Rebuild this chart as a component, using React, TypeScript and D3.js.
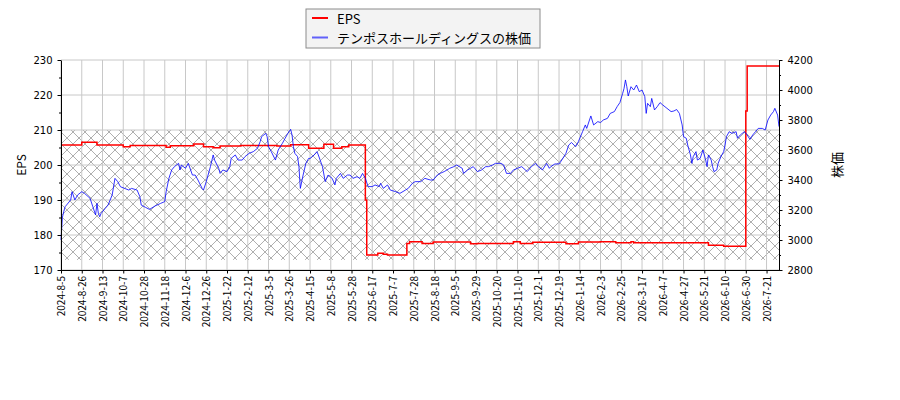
import React, { useRef, useEffect } from "react";
import * as d3 from "d3";

// x tick labels, one every 15 trading days
const tickLabels: string[] = [
  "2024-8-5", "2024-8-26", "2024-9-13", "2024-10-7", "2024-10-28", "2024-11-18",
  "2024-12-6", "2024-12-26", "2025-1-22", "2025-2-12", "2025-3-5", "2025-3-26",
  "2025-4-15", "2025-5-8", "2025-5-28", "2025-6-17", "2025-7-7", "2025-7-28",
  "2025-8-18", "2025-9-5", "2025-9-29", "2025-10-20", "2025-11-10", "2025-12-1",
  "2025-12-19", "2026-1-14", "2026-2-3", "2026-2-25", "2026-3-17", "2026-4-7",
  "2026-4-27", "2026-5-21", "2026-6-10", "2026-6-30", "2026-7-21",
];
const tickStep = 15;
const lastIndex = 519;

// EPS, [day index, value] at each change
const epsSteps: [number, number][] = [
  [0, 205.7], [15, 206.5], [26, 205.7], [45, 205.2], [50, 205.6], [76, 205.1],
  [79, 205.5], [96, 206.0], [103, 205.2], [110, 204.9], [115, 205.4], [130, 205.6],
  [156, 205.4], [166, 205.8], [179, 204.8], [190, 205.9], [197, 204.8], [203, 205.2],
  [208, 205.7], [220, 190.0], [221, 174.3], [229, 174.8], [233, 174.5], [236, 174.3],
  [250, 177.6], [252, 178.1], [261, 177.6], [269, 178.0], [296, 177.5], [301, 177.6],
  [327, 178.1], [332, 177.6], [341, 177.9], [365, 177.5], [374, 178.0], [390, 178.1],
  [401, 177.8], [412, 178.1], [414, 177.8], [468, 177.1], [479, 176.8], [495, 215.4],
  [496, 228.3], [519, 228.3],
];

// share price, [day index, yen]
const stockPrice: [number, number][] = [
  [0, 3000], [1, 3150], [2, 3190], [3, 3222], [4, 3233], [7, 3267], [8, 3322],
  [10, 3267], [12, 3300], [15, 3322], [17, 3311], [21, 3278], [23, 3222], [25, 3167],
  [26, 3244], [27, 3178], [28, 3155], [29, 3178], [32, 3211], [34, 3233], [37, 3300],
  [39, 3411], [41, 3389], [43, 3355], [46, 3344], [49, 3333], [51, 3344], [55, 3333],
  [57, 3289], [58, 3233], [61, 3218], [64, 3204], [68, 3227], [72, 3244], [75, 3256],
  [76, 3322], [78, 3411], [80, 3467], [82, 3489], [85, 3511], [86, 3467], [87, 3500],
  [90, 3478], [92, 3511], [95, 3433], [97, 3433], [99, 3400], [102, 3344], [103, 3333],
  [105, 3389], [108, 3489], [110, 3567], [111, 3533], [114, 3478], [115, 3444],
  [117, 3467], [120, 3456], [122, 3489], [123, 3544], [126, 3567], [128, 3533],
  [131, 3533], [133, 3556], [136, 3578], [139, 3589], [142, 3611], [144, 3656],
  [145, 3689], [148, 3711], [149, 3689], [150, 3622], [152, 3589], [155, 3533],
  [157, 3600], [160, 3644], [162, 3678], [164, 3711], [166, 3738], [167, 3700],
  [168, 3622], [169, 3578], [171, 3556], [172, 3489], [173, 3344], [175, 3433],
  [177, 3511], [179, 3544], [180, 3544], [183, 3567], [185, 3589], [186, 3567],
  [189, 3489], [191, 3389], [193, 3433], [196, 3411], [198, 3367], [199, 3411],
  [202, 3444], [204, 3411], [207, 3433], [209, 3433], [211, 3411], [214, 3422],
  [216, 3411], [218, 3444], [220, 3411], [222, 3356], [225, 3356], [227, 3367],
  [230, 3356], [231, 3378], [233, 3344], [236, 3367], [238, 3333], [242, 3322],
  [245, 3311], [249, 3333], [251, 3344], [254, 3378], [256, 3389], [260, 3389],
  [263, 3411], [267, 3400], [269, 3400], [272, 3433], [274, 3444], [277, 3456],
  [279, 3467], [281, 3478], [284, 3489], [286, 3500], [290, 3478], [291, 3444],
  [294, 3467], [296, 3478], [298, 3489], [301, 3456], [304, 3467], [307, 3489],
  [309, 3489], [312, 3500], [314, 3511], [318, 3511], [320, 3500], [322, 3444],
  [325, 3444], [327, 3467], [330, 3478], [333, 3489], [337, 3456], [340, 3489],
  [343, 3511], [345, 3489], [348, 3467], [351, 3511], [353, 3478], [354, 3489],
  [357, 3507], [360, 3507], [362, 3533], [365, 3578], [367, 3633], [369, 3650],
  [372, 3622], [374, 3656], [377, 3722], [379, 3767], [380, 3744], [383, 3827],
  [385, 3767], [388, 3789], [390, 3783], [392, 3800], [395, 3811], [397, 3844],
  [400, 3856], [402, 3889], [404, 3916], [406, 3978], [407, 4011], [408, 4067],
  [409, 4022], [410, 3960], [412, 4022], [414, 4000], [416, 4033], [418, 3989],
  [420, 4000], [422, 3956], [423, 3844], [424, 3911], [426, 3889], [427, 3944],
  [429, 3867], [431, 3889], [433, 3916], [435, 3900], [438, 3878], [441, 3856],
  [443, 3860], [445, 3870], [447, 3844], [449, 3767], [450, 3689], [452, 3678],
  [453, 3633], [455, 3567], [456, 3511], [457, 3556], [459, 3589], [460, 3533],
  [462, 3544], [464, 3600], [466, 3533], [467, 3489], [468, 3567], [470, 3533],
  [471, 3489], [472, 3456], [474, 3467], [475, 3511], [477, 3556], [479, 3589],
  [480, 3633], [481, 3689], [483, 3722], [485, 3711], [488, 3722], [489, 3678],
  [491, 3700], [494, 3722], [496, 3700], [498, 3671], [500, 3700], [502, 3722],
  [504, 3744], [507, 3744], [509, 3733], [511, 3800], [513, 3833], [515, 3856],
  [516, 3878], [518, 3833], [519, 3756],
];

// hatched band, in EPS units
const bandLow = 172.9;
const bandHigh = 210;

const stockName = "テンポスホールディングスの株価";

const numFont = "DejaVu Sans";
const jpFont = "'Noto Sans CJK JP', sans-serif";

const App: React.FC = () => {
  const d3Container = useRef<SVGSVGElement | null>(null);

  useEffect(() => {
    const svg = d3.select(d3Container.current);
    svg.selectChildren().remove();

    const margin = { top: 60, right: 121, bottom: 130, left: 61 };
    const width = 900 - margin.left - margin.right;
    const height = 400 - margin.top - margin.bottom;

    const x = d3.scaleLinear().domain([0, lastIndex]).range([0, width]);
    const yL = d3.scaleLinear().domain([170, 230]).range([height, 0]);
    const yR = d3.scaleLinear().domain([2800, 4200]).range([height, 0]);

    // hatch pattern
    const pat = svg
      .append("defs")
      .append("pattern")
      .attr("id", "hatch")
      .attr("patternUnits", "userSpaceOnUse")
      .attr("width", 12)
      .attr("height", 12);
    pat
      .append("path")
      .attr("d", "M0,0L12,12M0,12L12,0M-1,1L1,-1M11,13L13,11M-1,11L1,13M11,-1L13,1")
      .attr("stroke", "#9a9a9a")
      .attr("stroke-width", 0.8)
      .attr("fill", "none");

    const g = svg
      .append("g")
      .attr("transform", `translate(${margin.left},${margin.top})`);

    // hatched band
    g.append("rect")
      .attr("x", 0)
      .attr("width", width)
      .attr("y", yL(bandHigh))
      .attr("height", yL(bandLow) - yL(bandHigh))
      .attr("fill", "url(#hatch)");

    // grid
    const xTicks = tickLabels.map((_, i) => i * tickStep);
    g.append("g")
      .selectAll("line")
      .data(xTicks)
      .join("line")
      .attr("x1", (d) => x(d))
      .attr("x2", (d) => x(d))
      .attr("y1", 0)
      .attr("y2", height)
      .attr("stroke", "#c8c8c8")
      .attr("stroke-width", 1);
    g.append("g")
      .selectAll("line")
      .data(d3.range(170, 231, 10))
      .join("line")
      .attr("x1", 0)
      .attr("x2", width)
      .attr("y1", (d) => yL(d))
      .attr("y2", (d) => yL(d))
      .attr("stroke", "#c8c8c8")
      .attr("stroke-width", 1);

    // EPS line
    const epsLine = d3
      .line<[number, number]>()
      .x((d) => x(d[0]))
      .y((d) => yL(d[1]))
      .curve(d3.curveStepAfter);
    g.append("path")
      .datum(epsSteps)
      .attr("fill", "none")
      .attr("stroke", "#ff0000")
      .attr("stroke-width", 1.5)
      .attr("d", epsLine);

    // price line
    const priceLine = d3
      .line<[number, number]>()
      .x((d) => x(d[0]))
      .y((d) => yR(d[1]));
    g.append("path")
      .datum(stockPrice)
      .attr("fill", "none")
      .attr("stroke", "#0000ff")
      .attr("stroke-opacity", 0.8)
      .attr("stroke-width", 1)
      .attr("d", priceLine);

    // axes
    const styleAxis = (sel: any) => {
      sel.select(".domain").attr("stroke", "#000").attr("stroke-width", 1);
      sel.selectAll(".tick line").attr("stroke", "#000");
      sel.selectAll("text").attr("font-family", numFont).attr("font-size", 10).attr("fill", "#000");
    };

    const left = g
      .append("g")
      .call(
        d3.axisLeft(yL).tickValues(d3.range(170, 231, 10)).tickSize(3.5).tickSizeOuter(0).tickPadding(5)
      );
    styleAxis(left);
    g.append("g")
      .call(d3.axisLeft(yL).tickValues(d3.range(175, 230, 10)).tickSize(2).tickFormat(() => ""))
      .call((s) => s.select(".domain").remove())
      .selectAll(".tick line")
      .attr("stroke", "#000");

    const right = g
      .append("g")
      .attr("transform", `translate(${width},0)`)
      .call(
        d3
          .axisRight(yR)
          .tickValues(d3.range(2800, 4201, 200))
          .tickFormat(d3.format("d"))
          .tickSize(3.5)
          .tickSizeOuter(0)
          .tickPadding(5)
      );
    styleAxis(right);
    g.append("g")
      .attr("transform", `translate(${width},0)`)
      .call(d3.axisRight(yR).tickValues(d3.range(2900, 4200, 200)).tickSize(2).tickFormat(() => ""))
      .call((s) => s.select(".domain").remove())
      .selectAll(".tick line")
      .attr("stroke", "#000");

    const bottom = g
      .append("g")
      .attr("transform", `translate(0,${height})`)
      .call(
        d3
          .axisBottom(x)
          .tickValues(xTicks)
          .tickSize(3.5)
          .tickSizeOuter(0)
          .tickFormat((d) => tickLabels[Math.round(+d / tickStep)])
      );
    styleAxis(bottom);
    bottom
      .selectAll("text")
      .attr("font-family", jpFont)
      .attr("font-size", 10)
      .attr("text-anchor", "end")
      .attr("dy", "0.35em")
      .attr("transform", "translate(0,6) rotate(-90)")
      .attr("x", 0)
      .attr("y", 0);

    // axis titles
    svg
      .append("text")
      .attr("transform", `translate(20,${margin.top + height / 2}) rotate(-90)`)
      .attr("text-anchor", "middle")
      .attr("dominant-baseline", "central")
      .attr("font-family", jpFont)
      .attr("font-size", 12)
      .text("EPS");
    svg
      .append("text")
      .attr("transform", `translate(836,${margin.top + height / 2}) rotate(-90)`)
      .attr("text-anchor", "middle")
      .attr("dominant-baseline", "central")
      .attr("font-family", jpFont)
      .attr("font-size", 13)
      .text("株価");

    // legend
    const lg = svg.append("g").attr("transform", "translate(306,9)");
    lg.append("rect")
      .attr("width", 234)
      .attr("height", 39)
      .attr("fill", "#f3f3f3")
      .attr("stroke", "#8c8c8c")
      .attr("stroke-width", 1);
    const items = [
      { label: "EPS", color: "#ff0000", opacity: 1 },
      { label: stockName, color: "#0000ff", opacity: 0.6 },
    ];
    items.forEach((it, i) => {
      const yy = 9 + i * 19.5;
      lg.append("line")
        .attr("x1", 6)
        .attr("x2", 22)
        .attr("y1", yy)
        .attr("y2", yy)
        .attr("stroke", it.color)
        .attr("stroke-opacity", it.opacity)
        .attr("stroke-width", 2);
      lg.append("text")
        .attr("x", 31)
        .attr("y", yy)
        .attr("dominant-baseline", "central")
        .attr("font-family", jpFont)
        .attr("font-size", 13)
        .text(it.label);
    });
  }, []);

  return (
    <div>
      <svg
        ref={d3Container}
        width={900}
        height={400}
        style={{ position: "absolute", left: 0, top: 0, background: "#fff" }}
      />
    </div>
  );
};

export default App;
